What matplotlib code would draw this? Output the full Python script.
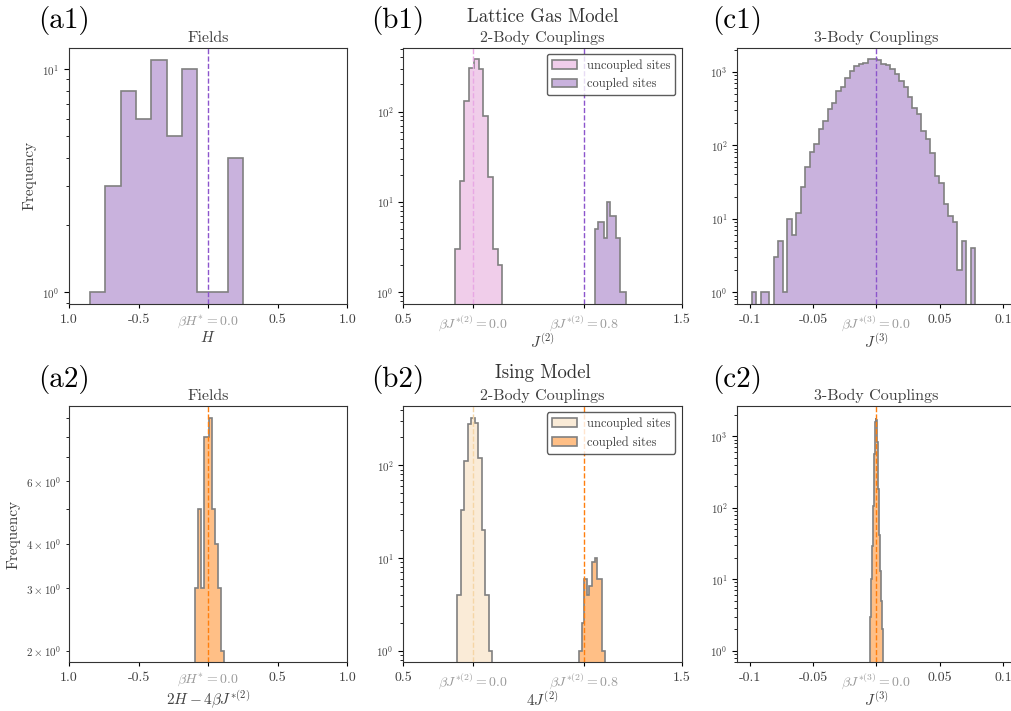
import numpy as np
import matplotlib
matplotlib.use('Agg')
import matplotlib.pyplot as plt

plt.rcParams['font.family'] = ['cmr10', 'DejaVu Serif']
plt.rcParams['mathtext.fontset'] = 'cm'
plt.rcParams['axes.unicode_minus'] = False
plt.rcParams['axes.formatter.use_mathtext'] = True
plt.rcParams['axes.edgecolor'] = '#333333'

# ---- histogram counts (10 bins unless noted) ----
# (a1) lattice gas fields
h_lg_range = (-0.849, 0.251)
h_lg_counts = [1, 3, 8, 6, 11, 5, 10, 1, 1, 4]
# (a2) ising fields
h_is_range = (-0.0946, 0.1138)
h_is_counts = [3, 5, 3, 8, 8, 9, 5, 4, 3, 2]

# (b1) lattice gas 2-body
j2_lg_unc_range = (-0.129, 0.211)
j2_lg_unc_counts = [3, 17, 130, 302, 380, 294, 89, 19, 3, 2]
j2_lg_cpl_range = (0.879, 1.097)
j2_lg_cpl_counts = [5, 6, 6, 4, 10, 7, 7, 4, 1, 1]
# (b2) ising 2-body
j2_is_unc_range = (-0.113, 0.139)
j2_is_unc_counts = [4, 33, 111, 279, 325, 284, 119, 20, 4, 1]
j2_is_cpl_range = (0.764, 0.948)
j2_is_cpl_counts = [1, 2, 6, 4, 5, 9, 10, 6, 6, 1]

# (c1) lattice gas 3-body, 50 bins
j3_lg_range = (-0.0987, 0.0779)
j3_lg_counts = [1, 0, 1, 1, 0, 3, 5, 1, 10, 6,
                12, 27, 51, 80, 104, 166, 214, 307, 371, 551,
                612, 819, 1031, 1206, 1257, 1324, 1469, 1469, 1438, 1270,
                1240, 1086, 918, 746, 625, 457, 324, 266, 156, 120,
                78, 38, 31, 16, 11, 9, 2, 5, 0, 4]
# (c2) ising 3-body (very narrow)
j3_is_range = (-0.0053, 0.0055)
j3_is_counts = [1, 2, 3, 5, 7, 10, 14, 20, 29, 41,
                62, 105, 190, 340, 560, 900, 1290, 1600, 1790, 1810,
                1720, 1500, 1180, 830, 520, 320, 185, 110, 66, 42,
                27, 19, 13, 9, 7, 5, 4, 3, 2, 2, 1]

# true parameter values (dashed lines)
h_true = 0.0
j2_true_unc = 0.0
j2_true_cpl = 0.8
j3_true = 0.0

# tick labels as printed on the figure
h_ticks = [-1.0, -0.5, 0.0, 0.5, 1.0]
h_ticklabels = ['1.0', '-0.5', r'$\beta H^{*} = 0.0$', '0.5', '1.0']
j2_ticks = [-0.5, 0.0, 0.8, 1.5]
j2_ticklabels = ['0.5', r'$\beta J^{*(2)} = 0.0$', r'$\beta J^{*(2)} = 0.8$', '1.5']
j3_ticks = [-0.1, -0.05, 0.0, 0.05, 0.1]
j3_ticklabels = ['-0.1', '-0.05', r'$\beta J^{*(3)} = 0.0$', '0.05', '0.1']

# colours
PURPLE_FILL = '#c9b2dd'
PURPLE_LINE = '#8c55cc'
PINK_FILL = '#f0cdea'
PINK_LINE = '#e8a8e4'
ORANGE_FILL = '#ffbf86'
ORANGE_LINE = '#ff7f0e'
BEIGE_FILL = '#faebd7'
BEIGE_LINE = '#f5d6a6'
EDGE = '#808080'
TXT = '#404040'
TXT_LIGHT = '#9a9a9a'

W, H = 1011, 711
fig = plt.figure(figsize=(W / 100, H / 100), dpi=100)


def px_axes(l, t, r, b):
    return fig.add_axes([l / W, 1 - b / H, (r - l) / W, (b - t) / H])


def draw_hist(ax, rng, counts, fc, label=None):
    edges = np.linspace(rng[0], rng[1], len(counts) + 1)
    ax.hist(edges[:-1], bins=edges, weights=counts, histtype='stepfilled',
            log=True, facecolor=fc, edgecolor=EDGE, linewidth=1.2, label=label)


def style(ax, ticks, labels, light_idx, xlim, ylim, xlabel, title):
    ax.set_yscale('log')
    ax.set_xlim(*xlim)
    ax.set_ylim(*ylim)
    ax.set_xticks(ticks)
    ax.set_xticklabels(labels)
    for i, t in enumerate(ax.get_xticklabels()):
        t.set_color(TXT_LIGHT if i in light_idx else TXT)
    ax.tick_params(axis='x', labelsize=10, length=3, width=0.8, pad=4)
    ax.tick_params(axis='y', which='major', labelsize=8, labelcolor=TXT, length=3.5, width=0.8)
    ax.tick_params(axis='y', which='minor', labelsize=8, labelcolor=TXT, length=2, width=0.6)
    ax.set_xlabel(xlabel, fontsize=11, color=TXT, labelpad=0)
    ax.set_title(title, fontsize=11.5, color=TXT, pad=4)


top = (47.7, 304.0)
bot = (406.0, 662.0)
cols = [(69.0, 347.3), (403.3, 681.7), (737.3, 1015.6)]

# ---------------- top row: lattice gas ----------------
ax = px_axes(cols[0][0], top[0], cols[0][1], top[1])
draw_hist(ax, h_lg_range, h_lg_counts, PURPLE_FILL)
ax.axvline(h_true, ls='--', color=PURPLE_LINE, lw=1)
style(ax, h_ticks, h_ticklabels, [2], (-1, 1), (0.887, 12.46), r'$H$', 'Fields')
ax.set_ylabel('Frequency', fontsize=11, color=TXT)

ax = px_axes(cols[1][0], top[0], cols[1][1], top[1])
draw_hist(ax, j2_lg_unc_range, j2_lg_unc_counts, PINK_FILL, 'uncoupled sites')
draw_hist(ax, j2_lg_cpl_range, j2_lg_cpl_counts, PURPLE_FILL, 'coupled sites')
ax.axvline(j2_true_unc, ls='--', color=PINK_LINE, lw=1)
ax.axvline(j2_true_cpl, ls='--', color=PURPLE_LINE, lw=1)
style(ax, j2_ticks, j2_ticklabels, [1, 2], (-0.5, 1.5), (0.74, 511), r'$J^{(2)}$', '2-Body Couplings')
leg = ax.legend(loc='upper right', fontsize=9, edgecolor='#333333', fancybox=True)
for t in leg.get_texts():
    t.set_color(TXT)

ax = px_axes(cols[2][0], top[0], cols[2][1], top[1])
draw_hist(ax, j3_lg_range, j3_lg_counts, PURPLE_FILL)
ax.axvline(j3_true, ls='--', color=PURPLE_LINE, lw=1)
style(ax, j3_ticks, j3_ticklabels, [2], (-0.11, 0.11), (0.694, 2117), r'$J^{(3)}$', '3-Body Couplings')

# ---------------- bottom row: ising ----------------
ax = px_axes(cols[0][0], bot[0], cols[0][1], bot[1])
draw_hist(ax, h_is_range, h_is_counts, ORANGE_FILL)
ax.axvline(h_true, ls='--', color=ORANGE_LINE, lw=1)
style(ax, h_ticks, h_ticklabels, [2], (-1, 1), (1.86, 9.75), r'$2H - 4\beta J^{*(2)}$', 'Fields')
ax.set_ylabel('Frequency', fontsize=11, color=TXT)

ax = px_axes(cols[1][0], bot[0], cols[1][1], bot[1])
draw_hist(ax, j2_is_unc_range, j2_is_unc_counts, BEIGE_FILL, 'uncoupled sites')
draw_hist(ax, j2_is_cpl_range, j2_is_cpl_counts, ORANGE_FILL, 'coupled sites')
ax.axvline(j2_true_unc, ls='--', color=BEIGE_LINE, lw=1)
ax.axvline(j2_true_cpl, ls='--', color=ORANGE_LINE, lw=1)
style(ax, j2_ticks, j2_ticklabels, [1, 2], (-0.5, 1.5), (0.755, 437), r'$4J^{(2)}$', '2-Body Couplings')
leg = ax.legend(loc='upper right', fontsize=9, edgecolor='#333333', fancybox=True)
for t in leg.get_texts():
    t.set_color(TXT)

ax = px_axes(cols[2][0], bot[0], cols[2][1], bot[1])
draw_hist(ax, j3_is_range, j3_is_counts, ORANGE_FILL)
ax.axvline(j3_true, ls='--', color=ORANGE_LINE, lw=1)
style(ax, j3_ticks, j3_ticklabels, [2], (-0.11, 0.11), (0.694, 2660), r'$J^{(3)}$', '3-Body Couplings')

# ---------------- panel letters and model headers ----------------
for lbl, x, y in [('(a1)', 38, 28), ('(b1)', 371, 28), ('(c1)', 712, 28),
                  ('(a2)', 38, 387), ('(b2)', 371, 387), ('(c2)', 712, 387)]:
    fig.text(x / W, 1 - y / H, lbl, fontsize=21, va='baseline', ha='left', color='black')

fig.text(542.5 / W, 1 - 21.7 / H, 'Lattice Gas Model', fontsize=13.5, ha='center',
         va='baseline', color='#333333')
fig.text(542.5 / W, 1 - 378.3 / H, 'Ising Model', fontsize=13.5, ha='center',
         va='baseline', color='#333333')

fig.savefig('out.png', dpi=100)
